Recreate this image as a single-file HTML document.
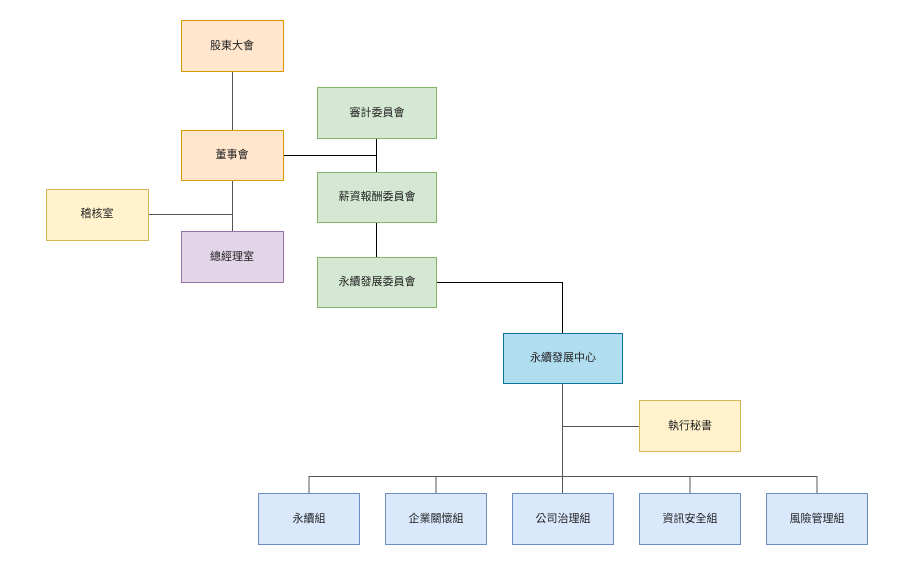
<!DOCTYPE html>
<html><head><meta charset="utf-8"><style>
body{margin:0;background:#fff;}
svg text{font-family:"Liberation Sans","Noto Sans CJK TC",sans-serif;font-size:11px;fill:#222;text-anchor:middle;dominant-baseline:central;}
</style></head><body>
<svg width="920" height="564" xmlns="http://www.w3.org/2000/svg">
<g stroke="#555" stroke-width="1" fill="none">
<path d="M232.5 71V130M232.5 180V231M148 214.5H232.5"/>
<path stroke="#000" d="M283.5 155.5H376.5M376.5 138V172M376.5 222V257M436 282.5H562.5V333"/>
<path d="M562.5 383V493M562.5 426.5H639M309 493V476.5H817V493M436 476.5V493M690 476.5V493"/>
</g>
<g stroke-width="1">
<rect x="181.5" y="20.5" width="102" height="51" fill="#ffe6cc" stroke="#d79b00"/>
<rect x="181.5" y="130.5" width="102" height="50" fill="#ffe6cc" stroke="#d79b00"/>
<rect x="46.5" y="189.5" width="102" height="51" fill="#fff2cc" stroke="#d6b656"/>
<rect x="181.5" y="231.5" width="102" height="51" fill="#e1d5e7" stroke="#9673a6"/>
<rect x="317.5" y="87.5" width="119" height="51" fill="#d5e8d4" stroke="#82b366"/>
<rect x="317.5" y="172.5" width="119" height="50" fill="#d5e8d4" stroke="#82b366"/>
<rect x="317.5" y="257.5" width="119" height="50" fill="#d5e8d4" stroke="#82b366"/>
<rect x="503.5" y="333.5" width="119" height="50" fill="#b1ddf0" stroke="#10739e"/>
<rect x="639.5" y="400.5" width="101" height="51" fill="#fff2cc" stroke="#d6b656"/>
<rect x="258.5" y="493.5" width="101" height="51" fill="#dae8fc" stroke="#6c8ebf"/>
<rect x="385.5" y="493.5" width="101" height="51" fill="#dae8fc" stroke="#6c8ebf"/>
<rect x="512.5" y="493.5" width="101" height="51" fill="#dae8fc" stroke="#6c8ebf"/>
<rect x="639.5" y="493.5" width="101" height="51" fill="#dae8fc" stroke="#6c8ebf"/>
<rect x="766.5" y="493.5" width="101" height="51" fill="#dae8fc" stroke="#6c8ebf"/>
</g>
<text x="232" y="46">股東大會</text>
<text x="232" y="155">董事會</text>
<text x="97" y="214">稽核室</text>
<text x="232" y="257">總經理室</text>
<text x="377" y="113">審計委員會</text>
<text x="377" y="197">薪資報酬委員會</text>
<text x="377" y="282">永續發展委員會</text>
<text x="563" y="358">永續發展中心</text>
<text x="690" y="426">執行秘書</text>
<text x="309" y="519">永續組</text>
<text x="436" y="519">企業關懷組</text>
<text x="563" y="519">公司治理組</text>
<text x="690" y="519">資訊安全組</text>
<text x="817" y="519">風險管理組</text>
</svg>
</body></html>
